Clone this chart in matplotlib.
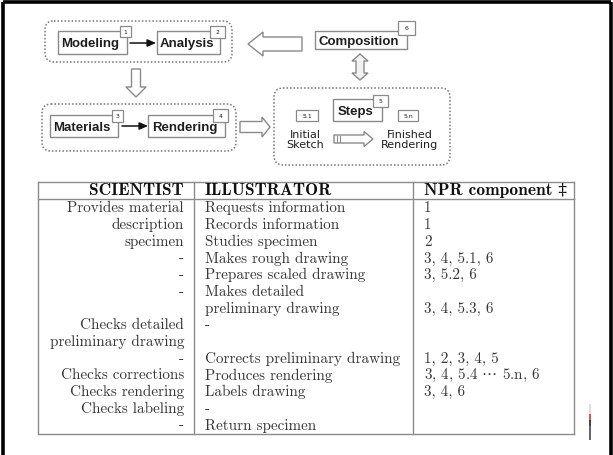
import matplotlib
matplotlib.use("Agg")
import matplotlib.pyplot as plt
from matplotlib.patches import Rectangle, FancyBboxPatch, Polygon

# ---------------- data ----------------
header = ["SCIENTIST", "ILLUSTRATOR", "NPR component \u2021"]
scientist = ["Provides material", "description", "specimen", "-", "-", "-", "",
             "Checks detailed", "preliminary drawing", "-", "Checks corrections",
             "Checks rendering", "Checks labeling", "-"]
illustrator = ["Requests information", "Records information", "Studies specimen",
               "Makes rough drawing", "Prepares scaled drawing", "Makes detailed",
               "preliminary drawing", "-", "", "Corrects preliminary drawing",
               "Produces rendering", "Labels drawing", "-", "Return specimen"]
npr = ["1", "1", "2", "3, 4, 5.1, 6", "3, 5.2, 6", "", "3, 4, 5.3, 6", "", "",
       "1, 2, 3, 4, 5", r"3, 4, 5.4 $\cdots$ 5.n, 6", "3, 4, 6", "", ""]

stages = ["Modeling", "Analysis", "Materials", "Rendering", "Composition", "Steps"]
stage_tags = ["1", "2", "3", "4", "6", "5"]
step_tags = ["5.1", "5.n"]
step_labels = ["Initial\nSketch", "Finished\nRendering"]

# ---------------- figure ----------------
fig = plt.figure(figsize=(6.13, 4.56), dpi=100)
ax = fig.add_axes([0, 0, 1, 1])
ax.set_xlim(0, 613)
ax.set_ylim(456, 0)
ax.axis("off")

# outer black frame
ax.plot([3, 3], [3, 456], color="black", lw=2.6, solid_capstyle="butt")
ax.plot([3, 611], [3, 3], color="black", lw=2.6, solid_capstyle="butt")
ax.plot([611, 611], [3, 456], color="black", lw=2.6, solid_capstyle="butt")

BOXC = "#8a8a8a"
TXT = "#1e1e1e"
sans_b = dict(family="Liberation Sans", weight="bold", color=TXT)

def group(x0, y0, x1, y1):
    p = FancyBboxPatch((x0, y0), x1 - x0, y1 - y0,
                       boxstyle="round,pad=0,rounding_size=9",
                       fill=False, ec="#777777", lw=1.1, ls=(0, (1, 1.3)))
    ax.add_patch(p)

def stage(x0, y0, x1, y1, label, tag, tx0, ty0, tx1, ty1, fs=9.5):
    ax.add_patch(Rectangle((x0, y0), x1 - x0, y1 - y0, fc="white", ec=BOXC, lw=1.0))
    ax.text((x0 + x1) / 2 - 2, (y0 + y1) / 2 + 1, label, ha="center", va="center",
            fontsize=fs, **sans_b)
    ax.add_patch(Rectangle((tx0, ty0), tx1 - tx0, ty1 - ty0, fc="white", ec=BOXC, lw=0.9))
    ax.text((tx0 + tx1) / 2, (ty0 + ty1) / 2, tag, ha="center", va="center",
            fontsize=4.4, color=TXT, family="DejaVu Sans")

def small_arrow(x0, x1, y):
    ax.annotate("", xy=(x1, y), xytext=(x0, y),
                arrowprops=dict(arrowstyle="-|>,head_length=0.5,head_width=0.22",
                                color="#111111", lw=1.1, shrinkA=0, shrinkB=0))

def hollow_h(tail, tip, yc, sh, hh, hl, fc="white"):
    d = 1 if tip > tail else -1
    hb = tip - d * hl
    pts = [(tail, yc - sh / 2), (hb, yc - sh / 2), (hb, yc - hh / 2), (tip, yc),
           (hb, yc + hh / 2), (hb, yc + sh / 2), (tail, yc + sh / 2)]
    ax.add_patch(Polygon(pts, closed=True, fc=fc, ec="#8a8a8a", lw=1.0))

def hollow_v(xc, tail, tip, sw, hw, hl, fc="white"):
    d = 1 if tip > tail else -1
    hb = tip - d * hl
    pts = [(xc - sw / 2, tail), (xc - sw / 2, hb), (xc - hw / 2, hb), (xc, tip),
           (xc + hw / 2, hb), (xc + sw / 2, hb), (xc + sw / 2, tail)]
    ax.add_patch(Polygon(pts, closed=True, fc=fc, ec="#8a8a8a", lw=1.0))

def hollow_v_double(xc, top, bot, sw, hw, hl, fc="#f2f2f2"):
    pts = [(xc, top), (xc + hw / 2, top + hl), (xc + sw / 2, top + hl),
           (xc + sw / 2, bot - hl), (xc + hw / 2, bot - hl), (xc, bot),
           (xc - hw / 2, bot - hl), (xc - sw / 2, bot - hl), (xc - sw / 2, top + hl),
           (xc - hw / 2, top + hl)]
    ax.add_patch(Polygon(pts, closed=True, fc=fc, ec="#8a8a8a", lw=1.0))

# ---- diagram ----
group(45, 22, 232, 63)
stage(58, 32, 127, 55, stages[0], stage_tags[0], 120, 27, 131, 38)
small_arrow(130, 156, 44)
stage(157, 32, 220, 55, stages[1], stage_tags[1], 210, 27, 225, 39)

group(42, 105, 236, 152)
stage(50, 116, 118, 138, stages[2], stage_tags[2], 112, 111, 123, 123)
small_arrow(122, 148, 127)
stage(148, 116, 225, 138, stages[3], stage_tags[3], 213, 110, 228, 123)

stage(315, 32, 407, 50, stages[4], stage_tags[4], 398, 22, 415, 36)

group(274, 89, 450, 166)
stage(333, 100, 382, 122, stages[5], stage_tags[5], 373, 96, 388, 108)
for (tx0, tx1), tag in zip([(296, 318), (398, 418)], step_tags):
    ax.add_patch(Rectangle((tx0, 111), tx1 - tx0, 11, fc="white", ec=BOXC, lw=0.9))
    ax.text((tx0 + tx1) / 2, 116.5, tag, ha="center", va="center",
            fontsize=4.4, color=TXT, family="DejaVu Sans")
for xc, lab in zip([305, 410], step_labels):
    ax.text(xc, 140, lab, ha="center", va="center", fontsize=8.0, color=TXT,
            family="DejaVu Sans", linespacing=1.1)

# hollow arrows
hollow_h(302, 248, 45, 14, 24, 15)          # composition -> analysis
hollow_v(136, 70, 98, 9, 20, 10)            # analysis -> materials
hollow_h(240, 270, 128, 11, 20, 8)          # rendering -> steps
hollow_h(334, 373, 140, 8, 15, 9)           # sketch -> finished
for xs in [337, 339.5]:
    ax.plot([xs, xs], [137, 143], color="#8a8a8a", lw=0.8)
hollow_v_double(360, 55, 81, 8, 16, 7)      # composition <-> steps

# ---- table ----
LC = "#8c8c8c"
tl, tr, tt, th, tb = 38, 574, 183, 200, 435
c1, c2 = 194, 413
for y in (tt, th, tb):
    ax.plot([tl, tr], [y, y], color=LC, lw=1.0)
for x in (tl, c1, c2, tr):
    ax.plot([x, x], [tt, tb], color=LC, lw=1.0)

serif = ["cmr10", "DejaVu Serif"]
bold = ["cmb10", "DejaVu Serif"]
TC = "#383838"
HS, BS = 12.5, 10.9
hy = 191
ax.text(184, hy, header[0], ha="right", va="center", fontsize=HS, family=bold, color="#111111")
ax.text(205, hy, header[1], ha="left", va="center", fontsize=HS, family=bold, color="#111111")
ax.text(424, hy, header[2], ha="left", va="center", fontsize=HS, family=bold, color="#111111")

y0, dy = 208.5, 16.7
for i, (s, il, n) in enumerate(zip(scientist, illustrator, npr)):
    y = y0 + i * dy
    if s:
        ax.text(184, y, s, ha="right", va="center", fontsize=BS, family=serif, color=TC)
    if il:
        ax.text(205, y, il, ha="left", va="center", fontsize=BS, family=serif, color=TC)
    if n:
        ax.text(424, y, n, ha="left", va="center", fontsize=BS, family=serif, color=TC)

# small artifact at lower right
for yy, hh, cc in [(405, 10, "#dddddd"), (415, 6, "#d9534f"), (421, 6, "#444444"), (427, 14, "#666666")]:
    ax.add_patch(Rectangle((589, yy), 2, hh, fc=cc, ec="none"))

fig.savefig("out.png", dpi=100)
